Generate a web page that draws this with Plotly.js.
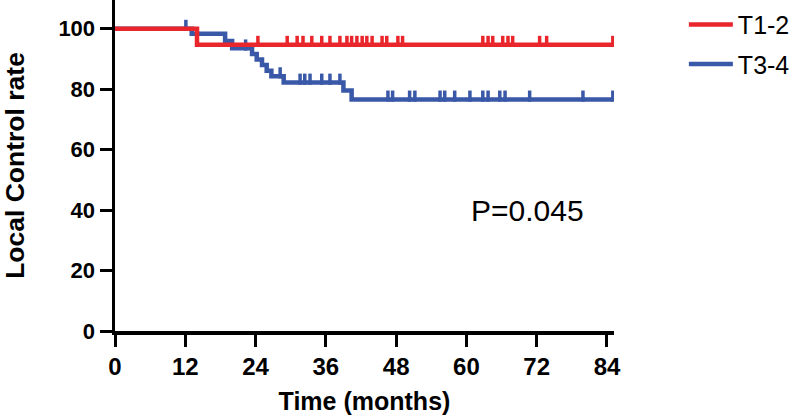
<!DOCTYPE html>
<html>
<head>
<meta charset="utf-8">
<script src="https://cdn.plot.ly/plotly-3.0.1.min.js"></script>
<style>html,body{margin:0;padding:0;background:#fff;}#chart{width:800px;height:417px;}</style>
</head>
<body>
<div id="chart"></div>
<script>
// ---- data ----
const seriesNames = ["T1-2", "T3-4"];
const xTicks = [0, 12, 24, 36, 48, 60, 72, 84];
const yTicks = [0, 20, 40, 60, 80, 100];

// T1-2 Kaplan-Meier steps (months, %)
const t12Time = [0, 14.0, 85];
const t12Surv = [100, 94.7, 94.7];
const t12Censor = [24.4, 29.4, 31.1, 32.1, 33.6, 35.3, 36.7, 38.4, 39.6, 40.4, 41.3, 42.2, 43.0, 43.9,
                   45.6, 46.4, 48.3, 49.1, 62.8, 63.7, 64.5, 66.2, 67.1, 67.9, 72.5, 73.7, 85];

// T3-4 Kaplan-Meier steps (months, %)
const t34Time = [0, 13.1, 18.8, 20.0, 23.4, 24.2, 25.1, 25.9, 26.7, 28.8, 39.0, 40.4, 85];
const t34Surv = [100, 98.3, 95.9, 93.5, 91.6, 89.8, 88.0, 86.1, 84.3, 82.2, 79.6, 76.6, 76.6];
const t34Censor = [12.1, 22.3, 28.2, 31.6, 32.4, 33.3, 35.3, 36.7, 38.4, 46.6, 47.4, 50.3, 51.2, 55.5,
                   56.3, 58.0, 60.6, 62.8, 63.7, 65.7, 66.6, 70.8, 79.9, 85];

const pText = "P=0.045";

// ---- styles ----
const RED = "#E8262B";
const BLUE = "#3A58A8";
const TICK_OFFSET = 1.1; // censor mark sits on top of the line

function survAt(times, surv, t) {
  let v = surv[0];
  for (let i = 0; i < times.length; i++) { if (times[i] <= t) v = surv[i]; }
  return v;
}

function stepTrace(name, times, surv, color, group, rank) {
  return {x: times, y: surv, name: name, type: "scatter", mode: "lines", legendrank: rank,
          line: {shape: "hv", color: color, width: 4.5}, legendgroup: group};
}
function censorTrace(times, surv, cens, color, group) {
  return {x: cens, y: cens.map(t => survAt(times, surv, t) + TICK_OFFSET),
          type: "scatter", mode: "markers", showlegend: false, legendgroup: group,
          hoverinfo: "skip",
          marker: {symbol: "line-ns", size: 8, color: color, line: {color: color, width: 3.5}}};
}

// blue drawn first so the red curve lies on top, as in the reference
const data = [
  stepTrace(seriesNames[1], t34Time, t34Surv, BLUE, "b", 2),
  censorTrace(t34Time, t34Surv, t34Censor, BLUE, "b"),
  stepTrace(seriesNames[0], t12Time, t12Surv, RED, "a", 1),
  censorTrace(t12Time, t12Surv, t12Censor, RED, "a")
];

const FONT = "Liberation Sans, Arial, sans-serif";

const layout = {
  width: 800, height: 417,
  margin: {l: 115, r: 186, t: 0, b: 86},
  paper_bgcolor: "#fff", plot_bgcolor: "#fff",
  showlegend: true,
  legend: {x: 1.14, y: 0.995, xanchor: "left", yanchor: "top", itemwidth: 44,
           font: {family: FONT, size: 25, color: "#000"}, tracegroupgap: 4,
           bgcolor: "rgba(0,0,0,0)"},
  xaxis: {range: [0, 85.2], tickvals: xTicks, ticktext: xTicks.map(String),
          showgrid: false, zeroline: false, showline: true, linecolor: "#000", linewidth: 3.5,
          ticks: "outside", ticklen: 12, tickwidth: 3, tickcolor: "#000",
          tickfont: {family: FONT, size: 24, color: "#000", weight: "bold"},
          title: {text: "<b>Time (months)</b>", font: {family: FONT, size: 25, color: "#000"}, standoff: 14}},
  yaxis: {range: [0, 109.5], tickvals: yTicks, ticktext: yTicks.map(String),
          showgrid: false, zeroline: false, showline: true, linecolor: "#000", linewidth: 3.5,
          ticks: "outside", ticklen: 12, tickwidth: 3, tickcolor: "#000",
          tickfont: {family: FONT, size: 22, color: "#000", weight: "bold"},
          title: {text: "<b>Local Control rate</b>", font: {family: FONT, size: 26.5, color: "#000"}, standoff: 35}},
  annotations: [{x: 70.5, y: 40, xref: "x", yref: "y", text: pText, showarrow: false,
                 font: {family: FONT, size: 30, color: "#000"}}]
};

Plotly.newPlot("chart", data, layout, {staticPlot: true, displayModeBar: false});
</script>
</body>
</html>
